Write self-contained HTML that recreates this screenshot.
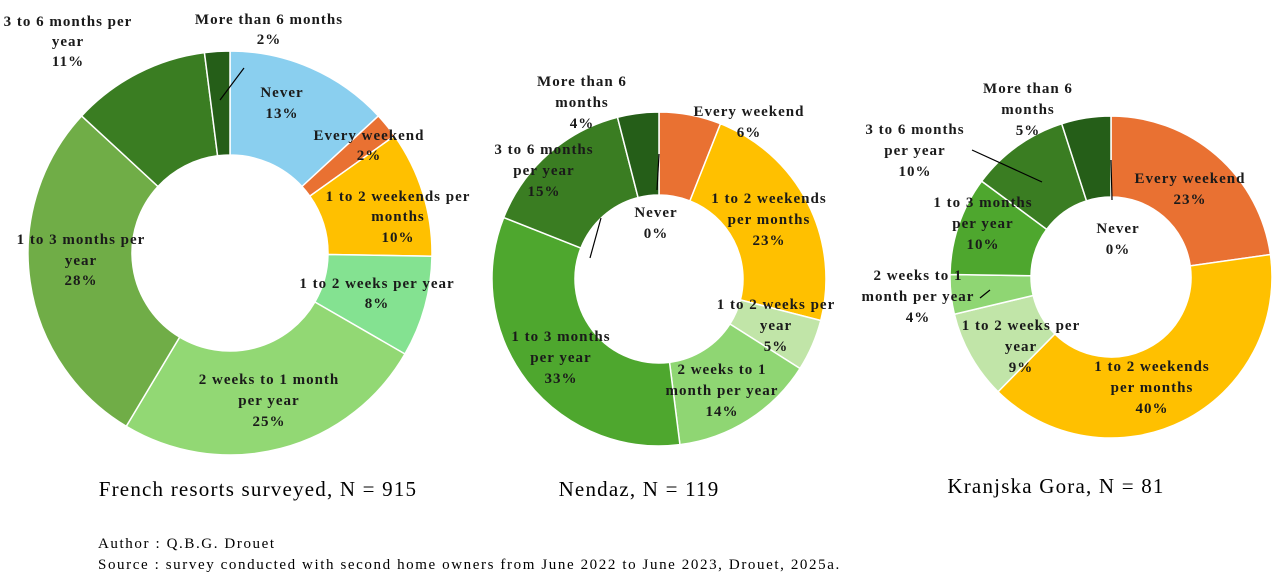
<!DOCTYPE html>
<html><head><meta charset="utf-8"><style>
body{margin:0;background:#fff;width:1283px;height:587px;overflow:hidden}
svg{display:block}
.l{font-family:"Liberation Serif",serif;font-size:15px;font-weight:bold;fill:#1a1a1a;text-anchor:middle;letter-spacing:1px}
.t{font-family:"Liberation Serif",serif;font-size:21px;fill:#000;text-anchor:middle;letter-spacing:1.2px}
.s{font-family:"Liberation Serif",serif;font-size:15px;fill:#000;letter-spacing:1.6px}
</style></head><body>
<svg id="c" width="1283" height="587" xmlns="http://www.w3.org/2000/svg">
<g id="arcs"></g>
<g stroke="#000" stroke-width="1.2">
<line x1="244" y1="68" x2="220" y2="100"/>
<line x1="657" y1="190" x2="659" y2="154"/>
<line x1="601" y1="218" x2="590" y2="258"/>
<line x1="1111" y1="160" x2="1112" y2="200"/>
<line x1="972" y1="150" x2="1042" y2="182"/>
<line x1="980" y1="298" x2="990" y2="290"/>
</g>
<g class="l">
<text x="68" y="26">3 to 6 months per</text><text x="68" y="46">year</text><text x="68" y="66">11%</text>
<text x="269" y="24">More than 6 months</text><text x="269" y="44">2%</text>
<text x="282" y="97">Never</text><text x="282" y="118">13%</text>
<text x="369" y="140">Every weekend</text><text x="369" y="160">2%</text>
<text x="398" y="201">1 to 2 weekends per</text><text x="398" y="221">months</text><text x="398" y="242">10%</text>
<text x="377" y="288">1 to 2 weeks per year</text><text x="377" y="308">8%</text>
<text x="269" y="384">2 weeks to 1 month</text><text x="269" y="405">per year</text><text x="269" y="426">25%</text>
<text x="81" y="244">1 to 3 months per</text><text x="81" y="265">year</text><text x="81" y="285">28%</text>
<text x="582" y="86">More than 6</text><text x="582" y="107">months</text><text x="582" y="128">4%</text>
<text x="749" y="116">Every weekend</text><text x="749" y="137">6%</text>
<text x="544" y="154">3 to 6 months</text><text x="544" y="175">per year</text><text x="544" y="196">15%</text>
<text x="656" y="217">Never</text><text x="656" y="238">0%</text>
<text x="769" y="203">1 to 2 weekends</text><text x="769" y="224">per months</text><text x="769" y="245">23%</text>
<text x="776" y="309">1 to 2 weeks per</text><text x="776" y="330">year</text><text x="776" y="351">5%</text>
<text x="561" y="341">1 to 3 months</text><text x="561" y="362">per year</text><text x="561" y="383">33%</text>
<text x="722" y="374">2 weeks to 1</text><text x="722" y="395">month per year</text><text x="722" y="416">14%</text>
<text x="1028" y="93">More than 6</text><text x="1028" y="114">months</text><text x="1028" y="135">5%</text>
<text x="915" y="134">3 to 6 months</text><text x="915" y="155">per year</text><text x="915" y="176">10%</text>
<text x="1190" y="183">Every weekend</text><text x="1190" y="204">23%</text>
<text x="983" y="207">1 to 3 months</text><text x="983" y="228">per year</text><text x="983" y="249">10%</text>
<text x="1118" y="233">Never</text><text x="1118" y="254">0%</text>
<text x="918" y="280">2 weeks to 1</text><text x="918" y="301">month per year</text><text x="918" y="322">4%</text>
<text x="1021" y="330">1 to 2 weeks per</text><text x="1021" y="351">year</text><text x="1021" y="372">9%</text>
<text x="1152" y="371">1 to 2 weekends</text><text x="1152" y="392">per months</text><text x="1152" y="413">40%</text>
</g>
<text class="t" x="258" y="496">French resorts surveyed, N = 915</text>
<text class="t" x="639" y="496">Nendaz, N = 119</text>
<text class="t" x="1056" y="493">Kranjska Gora, N = 81</text>
<text class="s" x="98" y="548">Author : Q.B.G. Drouet</text>
<text class="s" x="98" y="569">Source : survey conducted with second home owners from June 2022 to June 2023, Drouet, 2025a.</text>
</svg>
<script>
var O='#E97132',Y='#FFC000',D='#255E18',G3='#3A7D22',G2='#4EA72E';
var charts=[
 {cx:230,cy:253,r:202,ri:98,d:[[13,'#8ACFEF'],[2,O],[10,Y],[8,'#84E291'],[25,'#92D874'],[28,'#70AD47'],[11,G3],[2,D]]},
 {cx:659,cy:279,r:167,ri:84,d:[[6,O],[23,Y],[5,'#C1E5A8'],[14,'#8FD673'],[33,G2],[15,G3],[4,D]]},
 {cx:1111,cy:277,r:161,ri:80,d:[[23,O],[40,Y],[9,'#C1E5A8'],[4,'#8FD673'],[10,G2],[10,G3],[5,D]]}
];
var g=document.getElementById('arcs'),h='';
charts.forEach(function(c){
 var tot=c.d.reduce(function(s,x){return s+x[0]},0),a=0;
 c.d.forEach(function(x){
  var a0=a/tot*2*Math.PI;a+=x[0];var a1=a/tot*2*Math.PI;
  function p(r,t){return (c.cx+r*Math.sin(t)).toFixed(2)+','+(c.cy-r*Math.cos(t)).toFixed(2)}
  var lg=(a1-a0)>Math.PI?1:0;
  h+='<path fill="'+x[1]+'" stroke="#fff" stroke-width="1.5" d="M'+p(c.r,a0)+' A'+c.r+','+c.r+' 0 '+lg+' 1 '+p(c.r,a1)+' L'+p(c.ri,a1)+' A'+c.ri+','+c.ri+' 0 '+lg+' 0 '+p(c.ri,a0)+'Z"/>';
 });
});
g.innerHTML=h;
</script>
</body></html>
